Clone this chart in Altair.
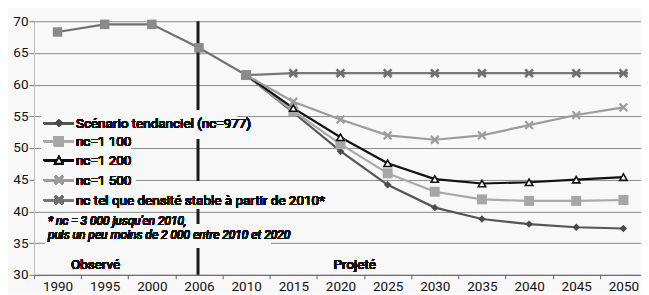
import altair as alt
import pandas as pd

categories = ["1990", "1995", "2000", "2006", "2010", "2015", "2020",
              "2025", "2030", "2035", "2040", "2045", "2050"]
obs_years = categories[:5]
proj_years = categories[4:]

observed = [68.3, 69.5, 69.5, 65.8, 61.5]
tendanciel = [61.5, 55.6, 49.5, 44.2, 40.6, 38.8, 38.0, 37.5, 37.3]
nc1100 = [61.5, 55.8, 50.6, 46.0, 43.1, 41.9, 41.65, 41.65, 41.8]
nc1200 = [61.5, 56.3, 51.7, 47.6, 45.1, 44.4, 44.6, 45.0, 45.4]
nc1500 = [61.5, 57.3, 54.5, 52.0, 51.3, 52.0, 53.6, 55.2, 56.4]
stable = [61.5, 61.8, 61.8, 61.8, 61.8, 61.8, 61.8, 61.8, 61.8]

labels = {
    "tend": "Scénario tendanciel (nc=977)",
    "n1100": "nc=1 100",
    "n1200": "nc=1 200",
    "n1500": "nc=1 500",
    "stable": "nc tel que densité stable à partir de 2010*",
}
footnote = ["* nc = 3 000 jusqu'en 2010,",
            "puis un peu moins de 2 000 entre 2010 et 2020"]

rows = []
for s, vals in [("tend", tendanciel), ("n1100", nc1100), ("n1200", nc1200),
                ("n1500", nc1500), ("stable", stable)]:
    for y, v in zip(proj_years, vals):
        rows.append({"series": s, "year": y, "value": v})
for y, v in zip(obs_years, observed):
    rows.append({"series": "obs", "year": y, "value": v})
df = pd.DataFrame(rows)

FONT = "Roboto"
BG = "#f8f8f8"

XPATH = "M-1,-1L1,1M-1,1L1,-1"
ASTER = "M-1,-1L1,1M-1,1L1,-1M-1.2,0L1.2,0"

styles = {
    "tend": dict(line="#555555", shape="diamond", size=55, fill="#4a4a4a", filled=True, sw=0),
    "n1100": dict(line="#a8a8a8", shape="square", size=100, fill="#a6a6a6", filled=True, sw=0),
    "n1200": dict(line="#111111", shape="triangle-up", size=55, fill="white", stroke="#111111", filled=True, sw=1.6),
    "n1500": dict(line="#9c9c9c", shape=XPATH, size=60, stroke="#9c9c9c", filled=False, sw=2.2),
    "stable": dict(line="#777777", shape=ASTER, size=60, stroke="#6e6e6e", filled=False, sw=2.6),
    "obs": dict(line="#707070", shape="square", size=90, fill="#8a8a8a", filled=True, sw=0),
}

xscale = alt.Scale(type="band", domain=categories, paddingInner=0, paddingOuter=0)
yscale = alt.Scale(domain=[30, 70], nice=False, zero=False)

X = alt.X("year:N", scale=xscale, sort=categories,
          axis=alt.Axis(title=None, labelAngle=0, tickBand="extent", grid=False,
                        domainColor="#666666", tickColor="#666666", tickSize=4,
                        labelFont=FONT, labelFontSize=13.5, labelColor="#111111",
                        labelPadding=1))
Y = alt.Y("value:Q", scale=yscale,
          axis=alt.Axis(title=None, values=[30, 35, 40, 45, 50, 55, 60, 65, 70],
                        grid=True, gridColor="#8c8c8c", gridWidth=1,
                        domainColor="#bbbbbb", tickColor="#777777", tickSize=5,
                        labelFont=FONT, labelFontSize=13.5, labelColor="#111111",
                        labelPadding=1))

base = alt.Chart(df)

# vertical separator at 2006
sep = alt.Chart(pd.DataFrame({"year": ["2006"]})).mark_rule(
    color="#1a1a1a", strokeWidth=3, xOffset=-1
).encode(x=alt.X("year:N", scale=xscale, sort=categories))

layers = [base.mark_point(opacity=0).encode(x=X, y=Y), sep]

# legend background boxes (cover gridlines & separator)
boxes = [
    (8, 203, 89.3, 117.3),
    (8, 97, 113.3, 128.3),
    (8, 97, 132.3, 146.3),
    (2, 102, 152.3, 166.3),
    (8, 269, 160.8, 187.3),
    (12, 145, 193.3, 207.3),
    (12, 237, 203.3, 226.3),
]
for x0, x1, y0, y1 in boxes:
    layers.append(alt.Chart(df).mark_rect(color=BG).encode(
        x=alt.value(x0), x2=alt.value(x1), y=alt.value(y0), y2=alt.value(y1)))

# legend rows
legend_y = {"tend": 102.3, "n1100": 120.3, "n1200": 139.3, "n1500": 159.3, "stable": 179.3}
for s, yc in legend_y.items():
    st = styles[s]
    layers.append(alt.Chart(df).mark_rule(color=st["line"], strokeWidth=2.2).encode(
        x=alt.value(10), x2=alt.value(40), y=alt.value(yc)))
    pk = dict(shape=st["shape"], size=st["size"], filled=st["filled"], opacity=1)
    if st["filled"]:
        pk["fill"] = st.get("fill")
    if st.get("stroke"):
        pk["stroke"] = st["stroke"]
        pk["strokeWidth"] = st["sw"]
    else:
        pk["strokeWidth"] = 0
    layers.append(alt.Chart(df).mark_point(**pk).encode(x=alt.value(25), y=alt.value(yc)))
    layers.append(alt.Chart(df).mark_text(
        text=labels[s], align="left", baseline="middle", font=FONT, fontSize=13.5, color="#111111"
    ).encode(x=alt.value(42), y=alt.value(yc + 0.5)))

for i, t in enumerate(footnote):
    layers.append(alt.Chart(df).mark_text(
        text=t, align="left", baseline="middle", font=FONT, fontSize=12,
        fontStyle="italic", color="#111111"
    ).encode(x=alt.value(14), y=alt.value(200.3 + 14 * i)))

layers.append(alt.Chart(df).mark_text(
    text="Observé", align="left", baseline="middle", font=FONT, fontSize=13.5, color="#111111"
).encode(x=alt.value(37), y=alt.value(244.5)))
layers.append(alt.Chart(df).mark_text(
    text="Projeté", align="left", baseline="middle", font=FONT, fontSize=13.5, color="#111111"
).encode(x=alt.value(300), y=alt.value(244.5)))

# data series
for s in ["tend", "n1100", "n1200", "n1500", "stable", "obs"]:
    st = styles[s]
    sub = base.transform_filter(alt.datum.series == s)
    layers.append(sub.mark_line(color=st["line"], strokeWidth=2.2).encode(x=X, y=Y))
for s in ["tend", "n1100", "n1500", "n1200", "stable", "obs"]:
    st = styles[s]
    sub = base.transform_filter(alt.datum.series == s)
    pk = dict(shape=st["shape"], size=st["size"], filled=st["filled"], opacity=1)
    if st["filled"]:
        pk["fill"] = st.get("fill")
    if st.get("stroke"):
        pk["stroke"] = st["stroke"]
        pk["strokeWidth"] = st["sw"]
    else:
        pk["strokeWidth"] = 0
    layers.append(sub.mark_point(**pk).encode(x=X, y=Y))

chart = alt.layer(*layers).properties(
    width=614, height=254,
    background=BG,
    padding={"left": 4, "top": 6, "right": -7, "bottom": 0},
).configure_view(stroke=None)

chart.save("out.html", embed_options={"renderer": "svg", "actions": False})
